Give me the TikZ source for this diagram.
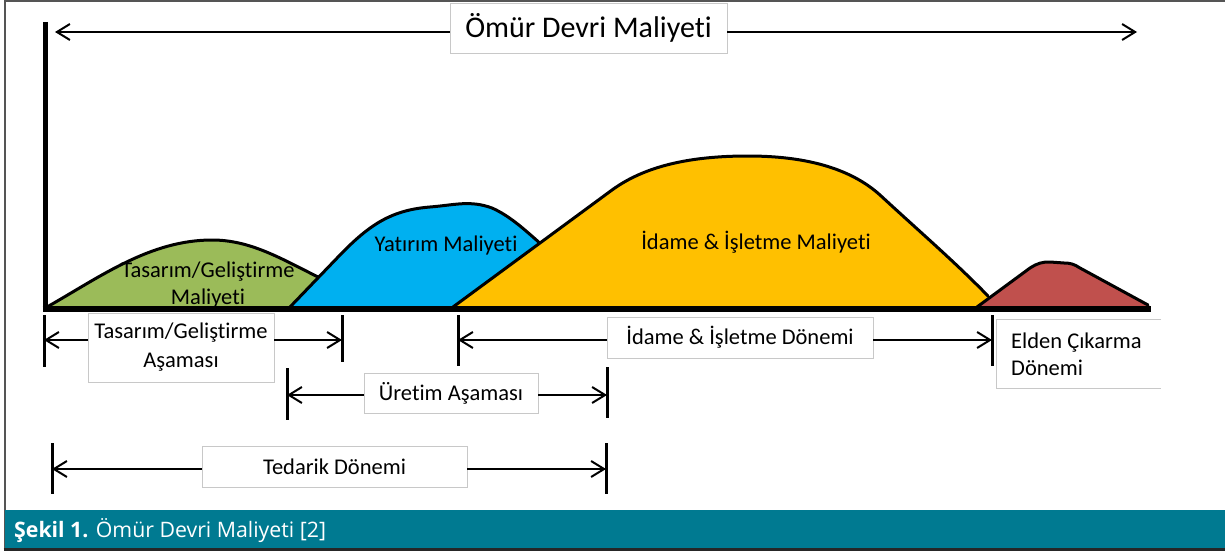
\documentclass[tikz,border=0pt]{standalone}
\usepackage{fontspec}
\setmainfont{Carlito}[RawFeature={-liga;-clig;-dlig}]
\newfontfamily\capfont{Open Sans}
\usetikzlibrary{arrows.meta}
\definecolor{cgreen}{HTML}{9BBB59}
\definecolor{cblue}{HTML}{00B0F0}
\definecolor{cyellow}{HTML}{FFC000}
\definecolor{cred}{HTML}{C0504D}
\definecolor{cteal}{HTML}{007A91}
\definecolor{boxgray}{HTML}{C8C8C8}
\definecolor{framegray}{HTML}{555555}
\tikzset{
  lbl/.style={draw=boxgray, fill=white, line width=0.9pt, inner sep=0pt, align=center, font=\fontsize{22.5}{29}\selectfont},
  curvelbl/.style={inner sep=0pt, align=center, font=\fontsize{22.5}{27}\selectfont},
  dimline/.style={line width=2pt, -{Straight Barb[length=13pt, width=16pt, line width=2pt]}},
  tickline/.style={line width=3pt},
  hump/.style={line width=3pt, line join=round, line cap=round},
}
\begin{document}
\begin{tikzpicture}[x=1pt, y=-1pt]
\useasboundingbox (0,0) rectangle (1225,551);
\fill[white] (0,0) rectangle (1225,551);

% frame
\draw[framegray, line width=2pt] (1225,1) -- (4.5,1) -- (4.5,549);
\fill[cteal] (4.5,510) rectangle (1225,547.5);
\draw[black!85, line width=3pt] (3.5,549) -- (1225,549);
\node[anchor=base west, inner sep=0pt, text=white, font=\capfont\fontsize{21.3}{24}\selectfont] (cap) at (14,537) {\textbf{Şekil 1.} Ömür Devri Maliyeti [2]};

% green hump
\fill[cgreen] (47,307) .. controls (100,277) and (150,240) .. (212,240) .. controls (250,240) and (280,258) .. (345,290) -- (345,308) -- cycle;
\draw[hump] (47,307) .. controls (100,277) and (150,240) .. (212,240) .. controls (250,240) and (280,258) .. (320,278);
% blue hump
\fill[cblue] (290,307) -- (340,255) .. controls (370,224) and (392,210) .. (430,207) .. controls (455,205) and (470,200) .. (492,208) .. controls (510,216) and (525,230) .. (560,262) -- (560,308) -- cycle;
\draw[hump] (290,307) -- (340,255) .. controls (370,224) and (392,210) .. (430,207) .. controls (455,205) and (470,200) .. (492,208) .. controls (510,216) and (525,230) .. (542,245);
% yellow hump
\fill[cyellow] (453,307) -- (612,190) .. controls (645,166) and (690,156) .. (748,156) .. controls (805,156) and (850,168) .. (880,195) .. controls (920,232) and (955,262) .. (995,302) -- (1000,308) -- cycle;
\draw[hump] (453,307) -- (612,190) .. controls (645,166) and (690,156) .. (748,156) .. controls (805,156) and (850,168) .. (880,195) .. controls (920,232) and (955,262) .. (988,296);
% red hump
\fill[cred] (977,307) -- (1030,268) .. controls (1038,263) and (1042,262) .. (1050,262) -- (1064,263) .. controls (1070,263) and (1074,264) .. (1080,268) -- (1148,305) -- (1148,308) -- cycle;
\draw[hump] (977,307) -- (1030,268) .. controls (1038,263) and (1042,262) .. (1050,262) -- (1064,263) .. controls (1070,263) and (1074,264) .. (1080,268) -- (1148,305);

% axes
\draw[line width=5pt] (45,22) -- (45,311);
\draw[line width=5.5pt] (42.5,309) -- (1151,309);

% curve labels
\node[curvelbl] (lg) at (208,285) {Tasarım/Geliştirme\\Maliyeti};
\node[curvelbl] (lb) at (446,245) {Yatırım Maliyeti};
\node[curvelbl] (ly) at (756,242) {İdame \& İşletme Maliyeti};

% top arrow
\coordinate (topL) at (55,32);
\coordinate (topR) at (1137,32);
\node[lbl, minimum width=277pt, minimum height=50pt, font=\fontsize{30}{34}\selectfont] (omur) at (588.5,28) {Ömür Devri Maliyeti};
\draw[dimline] (omur.west |- topL) -- (topL);
\draw[dimline] (omur.east |- topR) -- (topR);

% Tasarım / Geliştirme Aşaması
\draw[tickline] (44,315) -- (44,367);
\draw[tickline] (342,315) -- (342,362);
\coordinate (tL) at (44,340);
\coordinate (tR) at (342,340);
\node[lbl, minimum width=186pt, minimum height=69pt] (tas) at (181,347.5) {Tasarım/Geliştirme\\Aşaması};
\draw[dimline] (tas.west |- tL) -- (tL);
\draw[dimline] (tas.east |- tR) -- (tR);

% Üretim Aşaması
\draw[tickline] (287,368) -- (287,420);
\draw[tickline] (607,367) -- (607,418);
\coordinate (uL) at (287,395);
\coordinate (uR) at (607,395);
\node[lbl, minimum width=174pt, minimum height=40pt] (ure) at (451,393) {Üretim Aşaması};
\draw[dimline] (ure.west |- uL) -- (uL);
\draw[dimline] (ure.east |- uR) -- (uR);

% Tedarik Dönemi
\draw[tickline] (52,443) -- (52,494);
\draw[tickline] (606,443) -- (606,494);
\coordinate (dL) at (52,469);
\coordinate (dR) at (606,469);
\node[lbl, minimum width=265pt, minimum height=41pt] (ted) at (334.5,466.5) {Tedarik Dönemi};
\draw[dimline] (ted.west |- dL) -- (dL);
\draw[dimline] (ted.east |- dR) -- (dR);

% İdame & İşletme Dönemi
\draw[tickline] (458,315) -- (458,366);
\draw[tickline] (992,315) -- (992,366);
\coordinate (iL) at (458,340);
\coordinate (iR) at (992,340);
\node[lbl, minimum width=266pt, minimum height=41pt] (ida) at (740,337.5) {İdame \& İşletme Dönemi};
\draw[dimline] (ida.west |- iL) -- (iL);
\draw[dimline] (ida.east |- iR) -- (iR);

% Elden Çıkarma Dönemi
\coordinate (eNW) at (996,319);
\coordinate (eSW) at (996,388);
\coordinate (eNE) at (1161,319);
\coordinate (eSE) at (1161,388);
\draw[boxgray, line width=0.9pt] (eNE) -- (eNW) -- (eSW) -- (eSE);
\node[anchor=west, inner sep=0pt, align=left, font=\fontsize{22.5}{27}\selectfont] (eld) at (1011,354) {Elden Çıkarma\\Dönemi};
\end{tikzpicture}
\end{document}
